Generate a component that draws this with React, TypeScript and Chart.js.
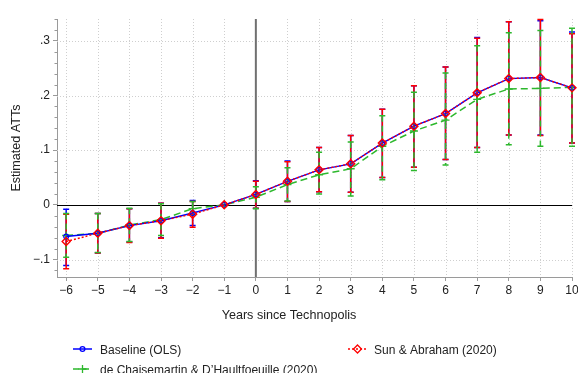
import React, { useEffect, useRef } from 'react';
import { Chart, registerables } from 'chart.js';

Chart.register(...registerables);

// ---------- data ----------
const years = [-6, -5, -4, -3, -2, -1, 0, 1, 2, 3, 4, 5, 6, 7, 8, 9, 10];

const baseline = [-0.058, -0.052, -0.038, -0.029, -0.015, 0, 0.019, 0.043, 0.064, 0.075, 0.113, 0.144, 0.167, 0.205, 0.231, 0.233, 0.214];
const baselineLo = [-0.111, -0.088, -0.068, -0.060, -0.038, null, -0.006, 0.006, 0.024, 0.023, 0.050, 0.069, 0.083, 0.105, 0.128, 0.128, 0.113];
const baselineHi = [-0.008, -0.016, -0.007, 0.003, 0.008, null, 0.044, 0.080, 0.105, 0.127, 0.175, 0.218, 0.252, 0.306, 0.335, 0.337, 0.316];

const sunAbraham = [-0.067, -0.052, -0.038, -0.029, -0.017, 0, 0.019, 0.043, 0.064, 0.075, 0.113, 0.144, 0.167, 0.205, 0.231, 0.233, 0.214];
const sunAbrahamLo = [-0.117, -0.088, -0.069, -0.061, -0.041, null, -0.006, 0.006, 0.024, 0.023, 0.050, 0.069, 0.083, 0.105, 0.128, 0.127, 0.113];
const sunAbrahamHi = [-0.017, -0.016, -0.007, 0.003, 0.006, null, 0.043, 0.079, 0.105, 0.127, 0.175, 0.218, 0.252, 0.305, 0.335, 0.339, 0.313];

const dcdh = [-0.056, -0.052, -0.037, -0.027, -0.007, 0, 0.014, 0.037, 0.055, 0.066, 0.107, 0.135, 0.155, 0.193, 0.212, 0.213, 0.215];
const dcdhLo = [-0.096, -0.087, -0.067, -0.056, -0.018, null, -0.007, 0.007, 0.020, 0.016, 0.046, 0.063, 0.073, 0.096, 0.110, 0.107, 0.107];
const dcdhHi = [-0.016, -0.016, -0.006, 0.002, 0.006, null, 0.033, 0.068, 0.096, 0.115, 0.163, 0.206, 0.241, 0.291, 0.315, 0.319, 0.323];

const xTicks = [-6, -5, -4, -3, -2, -1, 0, 1, 2, 3, 4, 5, 6, 7, 8, 9, 10];
const yTicks = [-0.1, 0, 0.1, 0.2, 0.3];
const yTickLabels = ['\u2212.1', '0', '.1', '.2', '.3'];
const yMinorTicks = [-0.12, -0.08, -0.06, -0.04, -0.02, 0.02, 0.04, 0.06, 0.08, 0.12, 0.14, 0.16, 0.18, 0.22, 0.24, 0.26, 0.28, 0.32, 0.34];

const xTitle = 'Years since Technopolis';
const yTitle = 'Estimated ATTs';
const labelBaseline = 'Baseline (OLS)';
const labelSun = 'Sun & Abraham (2020)';
const labelDcdh = 'de Chaisemartin & D\u2019Haultfoeuille (2020)';

// ---------- styles ----------
const FONT = "'Liberation Sans', Arial, Helvetica, sans-serif";
const BLUE = '#0000ff';
const RED = '#ff0000';
const GREEN = '#2db82d';
const AXIS = '#9a9a9a';
const GRID = '#cfcfcf';
const TEXT = '#222222';

const fmtX = (v: number) => (v < 0 ? '\u2212' + Math.abs(v) : String(v));

function drawMarker(ctx: CanvasRenderingContext2D, kind: string, cx: number, cy: number, color: string) {
  ctx.save();
  ctx.setLineDash([]);
  ctx.strokeStyle = color;
  ctx.lineWidth = 1.3;
  ctx.beginPath();
  if (kind === 'circle') {
    ctx.arc(cx, cy, 2.4, 0, Math.PI * 2);
  } else if (kind === 'diamond') {
    const r = 4;
    ctx.moveTo(cx, cy - r);
    ctx.lineTo(cx + r, cy);
    ctx.lineTo(cx, cy + r);
    ctx.lineTo(cx - r, cy);
    ctx.closePath();
  } else {
    const r = 4;
    ctx.moveTo(cx - r, cy);
    ctx.lineTo(cx + r, cy);
    ctx.moveTo(cx, cy - r);
    ctx.lineTo(cx, cy + r);
  }
  ctx.stroke();
  ctx.restore();
}

const decor = {
  id: 'decor',
  beforeDatasetsDraw(chart: any) {
    const { ctx, chartArea: a, scales } = chart;
    const x = scales.x;
    const y = scales.y;
    ctx.save();
    // dotted grid
    ctx.strokeStyle = GRID;
    ctx.lineWidth = 1;
    ctx.setLineDash([1, 2]);
    for (const v of xTicks) {
      if (v === 0) continue;
      const px = Math.round(x.getPixelForValue(v)) + 0.5;
      ctx.beginPath();
      ctx.moveTo(px, a.top);
      ctx.lineTo(px, a.bottom);
      ctx.stroke();
    }
    for (const v of yTicks) {
      if (v === 0) continue;
      const py = Math.round(y.getPixelForValue(v)) + 0.5;
      ctx.beginPath();
      ctx.moveTo(a.left, py);
      ctx.lineTo(a.right, py);
      ctx.stroke();
    }
    ctx.setLineDash([]);
    // minor ticks on y axis
    ctx.strokeStyle = AXIS;
    for (const v of yMinorTicks) {
      const py = Math.round(y.getPixelForValue(v)) + 0.5;
      ctx.beginPath();
      ctx.moveTo(a.left - 2.5, py);
      ctx.lineTo(a.left, py);
      ctx.stroke();
    }
    // vertical line at 0
    const x0 = x.getPixelForValue(0);
    ctx.strokeStyle = '#707070';
    ctx.lineWidth = 2;
    ctx.beginPath();
    ctx.moveTo(x0, a.top);
    ctx.lineTo(x0, a.bottom);
    ctx.stroke();
    // horizontal line at 0
    const y0 = Math.round(y.getPixelForValue(0)) + 0.5;
    ctx.strokeStyle = '#000000';
    ctx.lineWidth = 1.2;
    ctx.beginPath();
    ctx.moveTo(a.left, y0);
    ctx.lineTo(a.right, y0);
    ctx.stroke();

    // confidence intervals
    const ci = (lo: (number | null)[], hi: (number | null)[], color: string, dash: number[]) => {
      ctx.strokeStyle = color;
      ctx.lineWidth = 1.5;
      for (let i = 0; i < years.length; i++) {
        const l = lo[i];
        const h = hi[i];
        if (l == null || h == null) continue;
        const px = x.getPixelForValue(years[i]);
        const pl = y.getPixelForValue(l);
        const ph = y.getPixelForValue(h);
        ctx.setLineDash(dash);
        ctx.beginPath();
        ctx.moveTo(px, ph);
        ctx.lineTo(px, pl);
        ctx.stroke();
        ctx.setLineDash([]);
        ctx.beginPath();
        ctx.moveTo(px - 3, ph);
        ctx.lineTo(px + 3, ph);
        ctx.moveTo(px - 3, pl);
        ctx.lineTo(px + 3, pl);
        ctx.stroke();
      }
    };
    ci(baselineLo, baselineHi, BLUE, []);
    ci(sunAbrahamLo, sunAbrahamHi, RED, []);
    ci(dcdhLo, dcdhHi, GREEN, [6, 4]);
    ctx.restore();
  },
  afterDraw(chart: any) {
    const { ctx } = chart;
    ctx.save();
    ctx.fillStyle = TEXT;
    ctx.font = `12.6px ${FONT}`;
    ctx.textAlign = 'center';
    ctx.textBaseline = 'alphabetic';
    ctx.fillText(xTitle, chart.width / 2, 319);

    // legend
    ctx.font = `12px ${FONT}`;
    ctx.textAlign = 'left';
    const items = [
      { label: labelBaseline, color: BLUE, marker: 'circle', dash: [] as number[], x: 73, y: 349, tx: 100, ty: 354 },
      { label: labelSun, color: RED, marker: 'diamond', dash: [2, 2], x: 348, y: 349, tx: 374, ty: 354 },
      { label: labelDcdh, color: GREEN, marker: 'plus', dash: [6, 4], x: 73, y: 369, tx: 100, ty: 374 },
    ];
    for (const it of items) {
      ctx.strokeStyle = it.color;
      ctx.lineWidth = 1.5;
      ctx.setLineDash(it.dash);
      ctx.beginPath();
      ctx.moveTo(it.x, it.y);
      ctx.lineTo(it.x + 19, it.y);
      ctx.stroke();
      ctx.setLineDash([]);
      drawMarker(ctx, it.marker, it.x + 9.5, it.y, it.color);
      ctx.fillStyle = TEXT;
      ctx.fillText(it.label, it.tx, it.ty);
    }
    ctx.restore();
  },
};

export default function App() {
  const ref = useRef<HTMLCanvasElement | null>(null);

  useEffect(() => {
    if (!ref.current) return;
    Chart.defaults.font.family = FONT;
    const pts = (arr: number[]) => years.map((x, i) => ({ x, y: arr[i] }));
    const chart = new Chart(ref.current, {
      type: 'line',
      data: {
        datasets: [
          {
            label: labelBaseline,
            data: pts(baseline),
            borderColor: BLUE,
            backgroundColor: 'transparent',
            borderWidth: 1.4,
            pointStyle: 'circle',
            pointRadius: 2.4,
            pointBorderWidth: 1.2,
            pointBorderColor: BLUE,
            pointBackgroundColor: 'transparent',
            order: 2,
            clip: false,
          },
          {
            label: labelSun,
            data: pts(sunAbraham),
            borderColor: RED,
            backgroundColor: 'transparent',
            borderWidth: 1.4,
            borderDash: [2, 2],
            pointStyle: 'rectRot',
            pointRadius: 4,
            pointBorderWidth: 1.4,
            pointBorderColor: RED,
            pointBackgroundColor: 'transparent',
            order: 1,
            clip: false,
          },
          {
            label: labelDcdh,
            data: pts(dcdh),
            borderColor: GREEN,
            backgroundColor: 'transparent',
            borderWidth: 1.5,
            borderDash: [7, 4],
            pointStyle: 'cross',
            pointRadius: 4,
            pointBorderWidth: 1.4,
            pointBorderColor: GREEN,
            order: 3,
            clip: false,
          },
        ] as any,
      },
      options: {
        responsive: false,
        animation: false,
        devicePixelRatio: 1,
        layout: { padding: { top: 19, right: 6, left: 0, bottom: 0 } },
        plugins: { legend: { display: false }, tooltip: { enabled: false }, title: { display: false } },
        scales: {
          x: {
            type: 'linear',
            min: -6.29,
            max: 10,
            afterBuildTicks: (s: any) => {
              s.ticks = xTicks.map((v) => ({ value: v }));
            },
            afterFit: (s: any) => {
              s.height = 96;
              s.paddingLeft = 0;
              s.paddingRight = 0;
            },
            ticks: {
              callback: (v: any) => fmtX(Number(v)),
              font: { family: FONT, size: 12 },
              color: TEXT,
              padding: 2,
              maxRotation: 0,
              autoSkip: false,
            },
            grid: { drawOnChartArea: false, drawTicks: true, tickLength: 4, tickColor: AXIS, tickWidth: 1 },
            border: { color: AXIS, width: 1 },
          },
          y: {
            type: 'linear',
            min: -0.132,
            max: 0.34,
            afterBuildTicks: (s: any) => {
              s.ticks = yTicks.map((v) => ({ value: v }));
            },
            afterFit: (s: any) => {
              s.width = 57;
              s.paddingTop = 0;
              s.paddingBottom = 0;
            },
            ticks: {
              callback: (v: any) => {
                const i = yTicks.findIndex((t) => Math.abs(t - Number(v)) < 1e-9);
                return i >= 0 ? yTickLabels[i] : '';
              },
              font: { family: FONT, size: 12 },
              color: TEXT,
              padding: 3,
            },
            grid: { drawOnChartArea: false, drawTicks: true, tickLength: 4, tickColor: AXIS, tickWidth: 1 },
            border: { color: AXIS, width: 1 },
            title: {
              display: true,
              text: yTitle,
              color: TEXT,
              font: { family: FONT, size: 12.6 },
              padding: { top: 9, bottom: 0 },
            },
          },
        },
      } as any,
      plugins: [decor],
    });
    return () => chart.destroy();
  }, []);

  return (
    <div style={{ position: 'fixed', left: 0, top: 0, width: 578, height: 373, background: '#ffffff', overflow: 'hidden' }}>
      <canvas ref={ref} width={578} height={373} style={{ width: 578, height: 373, display: 'block' }} />
    </div>
  );
}
